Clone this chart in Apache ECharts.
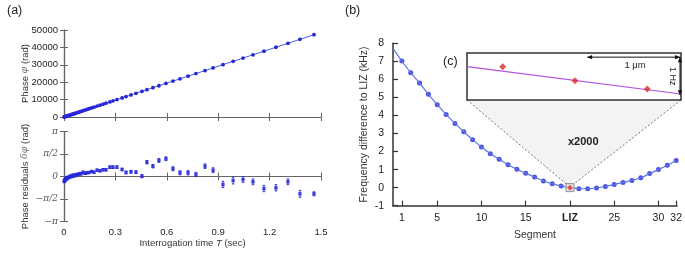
<!DOCTYPE html>
<html>
<head>
<meta charset="utf-8">
<script src="https://cdn.jsdelivr.net/npm/echarts@6/dist/echarts.min.js"></script>
<style>
  html, body { margin: 0; padding: 0; background: #fff; }
  #chart { width: 685px; height: 254px; }
</style>
</head>
<body>
<div id="chart"></div>
<script>
  // (a) phase vs interrogation time
  const timeT = [0.001, 0.003, 0.005, 0.008, 0.012, 0.015, 0.019, 0.023, 0.029, 0.035,
    0.041, 0.047, 0.053, 0.058, 0.064, 0.073, 0.082, 0.090, 0.099, 0.111,
    0.123, 0.134, 0.146, 0.161, 0.175, 0.193, 0.210, 0.228, 0.245, 0.268,
    0.286, 0.309, 0.339, 0.362, 0.391, 0.420, 0.455, 0.484, 0.519, 0.554,
    0.595, 0.636, 0.677, 0.724, 0.770, 0.823, 0.870, 0.928, 0.987, 1.045,
    1.103, 1.167, 1.237, 1.307, 1.377, 1.459]
  const phase = [30, 100, 160, 260, 390, 490, 620, 750, 940, 1130,
    1330, 1520, 1720, 1880, 2070, 2370, 2660, 2920, 3210, 3600,
    3990, 4340, 4730, 5220, 5670, 6260, 6810, 7390, 7940, 8690,
    9270, 10020, 10990, 11740, 12680, 13620, 14750, 15690, 16830, 17960,
    19290, 20620, 21950, 23470, 24960, 26680, 28210, 30090, 32000, 33880,
    35760, 37830, 40100, 42370, 44640, 47300]
  const residual = [-0.35, -0.25, -0.30, -0.22, -0.10, -0.18, -0.12, -0.05, -0.08, 0.02,
    -0.02, 0.08, 0.02, 0.10, 0.05, 0.15, 0.12, 0.20, 0.18, 0.30,
    0.22, 0.26, 0.28, 0.35, 0.30, 0.44, 0.40, 0.47, 0.47, 0.65,
    0.65, 0.65, 0.49, 0.28, 0.33, 0.30, 0.02, 1.00, 0.72, 1.12,
    1.24, 0.54, 0.26, 0.26, 0.14, 0.72, 0.44, -0.56, -0.28, -0.21,
    -0.37, -0.84, -0.79, -0.37, -1.21, -1.21]
  const residualErr = [0.06, 0.06, 0.06, 0.06, 0.06, 0.06, 0.06, 0.06, 0.06, 0.06,
    0.06, 0.06, 0.06, 0.06, 0.06, 0.06, 0.06, 0.06, 0.07, 0.07,
    0.07, 0.07, 0.07, 0.07, 0.08, 0.08, 0.08, 0.08, 0.08, 0.09,
    0.09, 0.09, 0.09, 0.10, 0.10, 0.10, 0.11, 0.12, 0.12, 0.13,
    0.13, 0.14, 0.14, 0.15, 0.15, 0.16, 0.17, 0.22, 0.24, 0.20,
    0.20, 0.22, 0.22, 0.20, 0.24, 0.14]
  const piLabels = ['\u2212\u03c0', '\u2212\u03c0/2', '0', '\u03c0/2', '\u03c0']

  // (b) frequency difference per segment
  const segments = [1, 2, 3, 4, 5, 6, 7, 8, 9, 10, 11, 12, 13, 14, 15, 16,
    17, 18, 19, 20, 21, 22, 23, 24, 25, 26, 27, 28, 29, 30, 31, 32]
  const freqDiff = [7.02, 6.37, 5.80, 5.17, 4.60, 4.06, 3.56, 3.10, 2.66, 2.25, 1.88, 1.57, 1.27, 1.02, 0.80, 0.59,
    0.37, 0.22, 0.09, 0.00, -0.06, -0.06, -0.02, 0.07, 0.18, 0.29, 0.40, 0.55, 0.78, 1.00, 1.24, 1.51]
  const fitStart = [0, 7.72]
  const segTicks = [1, 5, 10, 15, 20, 25, 30, 32]
  const lizSeg = 20

  // (c) inset, x2000 zoom around LIZ
  const insetX = [-0.77, 0, 0.77]
  const insetY = [0.37, 0.0, -0.22]
  const insetFitX = [-1.15, 1.13]
  const insetFitY = [0.368, -0.35]

  const FONT = 'Liberation Sans, Arial, sans-serif'
  const BLUE = '#2626d9'
  const AX_A = '#666'
  const AX_B = '#333'

  const chart = echarts.init(document.getElementById('chart'), null, { renderer: 'canvas' })

  const gA1 = { left: 64, top: 30, width: 257, height: 87 }
  const gA2 = { left: 64, top: 131.5, width: 257, height: 90 }
  const gB = { left: 393, top: 43.3, width: 287, height: 162.4 }
  const gC = { left: 467, top: 53, width: 214, height: 47 }

  function boxAxis(extra, color) {
    return Object.assign({
      type: 'value',
      axisLine: { show: true, lineStyle: { color: color, width: 1.2 } },
      axisTick: { show: true, inside: true, length: 4, lineStyle: { color: color } },
      axisLabel: { show: false },
      splitLine: { show: false }
    }, extra)
  }

  const tLabel = v => (Math.abs(v) < 1e-9 ? '0' : v.toFixed(1))
  const piLabel = v => piLabels[Math.round(v / (Math.PI / 2)) + 2]

  function renderErr(params, api) {
    const x = api.value(0)
    const y = api.value(1)
    const e = api.value(2)
    const hi = api.coord([x, y + e])
    const lo = api.coord([x, y - e])
    const cap = 1.3
    const st = { stroke: BLUE, lineWidth: 0.9 }
    return {
      type: 'group',
      children: [
        { type: 'line', shape: { x1: hi[0], y1: hi[1], x2: lo[0], y2: lo[1] }, style: st },
        { type: 'line', shape: { x1: hi[0] - cap, y1: hi[1], x2: hi[0] + cap, y2: hi[1] }, style: st },
        { type: 'line', shape: { x1: lo[0] - cap, y1: lo[1], x2: lo[0] + cap, y2: lo[1] }, style: st }
      ]
    }
  }

  const option = {
    animation: false,
    backgroundColor: '#fff',
    textStyle: { fontFamily: FONT },
    grid: [gA1, gA2, gB, Object.assign({ show: true, backgroundColor: '#fff', borderColor: '#333', borderWidth: 1.5 }, gC)],
    xAxis: [
      boxAxis({ gridIndex: 0, position: 'bottom', min: 0, max: 1.5, interval: 0.3 }, AX_A),
      boxAxis({ gridIndex: 0, position: 'top', min: 0, max: 1.5, interval: 0.3 }, AX_A),
      boxAxis({
        gridIndex: 1, position: 'bottom', min: 0, max: 1.5, interval: 0.3,
        axisLabel: { show: true, color: '#222', fontSize: 9.5, margin: 6, formatter: tLabel },
        name: 'Interrogation time {i|T} (sec)', nameLocation: 'middle', nameGap: 17,
        nameTextStyle: { color: '#333', fontSize: 9.5, rich: { i: { fontStyle: 'italic', fontSize: 9.5, color: '#333' } } }
      }, AX_A),
      boxAxis({ gridIndex: 1, position: 'top', min: 0, max: 1.5, interval: 0.3 }, AX_A),
      {
        type: 'value', gridIndex: 2, position: 'bottom', min: 0, max: 32.1,
        axisLine: { show: true, onZero: false, lineStyle: { color: AX_B, width: 1.5 } },
        axisTick: { show: true, inside: true, length: 5, customValues: segTicks, lineStyle: { color: AX_B, width: 1.2 } },
        axisLabel: {
          show: true, customValues: segTicks, color: '#222', fontSize: 10.5, margin: 7,
          formatter: v => (v === lizSeg ? '{b|LIZ}' : String(v)),
          rich: { b: { fontWeight: 'bold', fontSize: 10.5, color: '#222' } }
        },
        splitLine: { show: false },
        name: 'Segment', nameLocation: 'middle', nameGap: 24,
        nameTextStyle: { color: '#333', fontSize: 10.5 }
      },
      { type: 'value', gridIndex: 3, min: -1.15, max: 1.13, show: false }
    ],
    yAxis: [
      boxAxis({
        gridIndex: 0, position: 'left', min: 0, max: 50000, interval: 10000,
        axisLabel: { show: true, color: '#222', fontSize: 9.5, margin: 6, formatter: v => String(v) },
        name: 'Phase {i|\u03c6} (rad)', nameLocation: 'middle', nameGap: 34, nameRotate: 90, nameMoveOverlap: false,
        nameTextStyle: { color: '#333', fontSize: 9.5, rich: { i: { fontStyle: 'italic', fontSize: 9.5, color: '#777', fontFamily: 'DejaVu Serif' } } }
      }, AX_A),
      boxAxis({ gridIndex: 0, position: 'right', min: 0, max: 50000, interval: 10000 }, AX_A),
      boxAxis({
        gridIndex: 1, position: 'left', min: -Math.PI, max: Math.PI, interval: Math.PI / 2,
        axisLabel: { show: true, color: '#555', fontSize: 9, margin: 6, fontStyle: 'italic', fontFamily: 'DejaVu Serif', formatter: piLabel },
        name: 'Phase residuals {i|\u03b4\u03c6} (rad)', nameLocation: 'middle', nameGap: 34, nameRotate: 90, nameMoveOverlap: false,
        nameTextStyle: { color: '#333', fontSize: 9.5, rich: { i: { fontStyle: 'italic', fontSize: 9.5, color: '#777', fontFamily: 'DejaVu Serif' } } }
      }, AX_A),
      boxAxis({ gridIndex: 1, position: 'right', min: -Math.PI, max: Math.PI, interval: Math.PI / 2 }, AX_A),
      {
        type: 'value', gridIndex: 2, position: 'left', min: -1, max: 8, interval: 1,
        axisLine: { show: true, onZero: false, lineStyle: { color: AX_B, width: 1.5 } },
        axisTick: { show: true, inside: true, length: 5, lineStyle: { color: AX_B, width: 1.2 } },
        axisLabel: { show: true, color: '#222', fontSize: 10.5, margin: 9 },
        splitLine: { show: false },
        name: 'Frequency difference to LIZ (kHz)', nameLocation: 'middle', nameGap: 23, nameRotate: 90,
        nameTextStyle: { color: '#333', fontSize: 10.5 }
      },
      { type: 'value', gridIndex: 3, min: -0.508, max: 0.729, show: false }
    ],
    series: [
      {
        type: 'line', xAxisIndex: 0, yAxisIndex: 0,
        data: timeT.map((t, i) => [t, phase[i]]),
        symbol: 'circle', symbolSize: 3.8, showSymbol: true,
        lineStyle: { color: '#4a5ee0', width: 1 },
        itemStyle: { color: BLUE }
      },
      {
        type: 'custom', xAxisIndex: 2, yAxisIndex: 2,
        data: timeT.map((t, i) => [t, residual[i], residualErr[i]]),
        renderItem: renderErr, z: 3
      },
      {
        type: 'scatter', xAxisIndex: 2, yAxisIndex: 2,
        data: timeT.map((t, i) => [t, residual[i]]),
        symbol: 'rect', symbolSize: 3.4,
        itemStyle: { color: BLUE }, z: 4
      },
      {
        type: 'line', xAxisIndex: 4, yAxisIndex: 4,
        data: [fitStart].concat(segments.map((s, i) => [s, freqDiff[i]])),
        smooth: 0.3, showSymbol: false, symbol: 'none',
        lineStyle: { color: '#5a78e6', width: 1.2 }
      },
      {
        type: 'scatter', xAxisIndex: 4, yAxisIndex: 4,
        data: segments.map((s, i) => [s, freqDiff[i]]).filter(d => d[0] !== lizSeg),
        symbol: 'circle', symbolSize: 5,
        itemStyle: { color: BLUE }
      },
      {
        type: 'scatter', xAxisIndex: 4, yAxisIndex: 4,
        data: [[lizSeg, freqDiff[lizSeg - 1]]],
        symbol: 'rect', symbolSize: 8,
        itemStyle: { color: '#e4e4e4', borderColor: '#777', borderWidth: 1 }, z: 5
      },
      {
        type: 'scatter', xAxisIndex: 4, yAxisIndex: 4,
        data: [[lizSeg, freqDiff[lizSeg - 1]]],
        symbol: 'diamond', symbolSize: 6,
        itemStyle: { color: '#e02a2a' }, z: 6
      },
      {
        type: 'line', xAxisIndex: 5, yAxisIndex: 5,
        data: insetFitX.map((x, i) => [x, insetFitY[i]]),
        showSymbol: false, symbol: 'none',
        lineStyle: { color: '#b050e0', width: 1.2 }, z: 5
      },
      {
        type: 'scatter', xAxisIndex: 5, yAxisIndex: 5,
        data: insetX.map((x, i) => [x, insetY[i]]),
        symbol: 'diamond', symbolSize: 7,
        itemStyle: { color: '#dd2a2a' }, z: 6
      }
    ]
  }

  chart.setOption(option)

  // zoom wedge from LIZ point up to the inset, plus labels and scale arrows
  const liz = chart.convertToPixel({ gridIndex: 2 }, [lizSeg, freqDiff[lizSeg - 1]])
  const cL = gC.left, cR = gC.left + gC.width, cB = gC.top + gC.height
  const ink = '#111'
  const arrowH = (x1, x2, y) => [
    { type: 'line', shape: { x1: x1, y1: y, x2: x2, y2: y }, style: { stroke: ink, lineWidth: 1 }, z: 20 },
    { type: 'polygon', shape: { points: [[x1, y], [x1 + 5, y - 2.2], [x1 + 5, y + 2.2]] }, style: { fill: ink }, z: 20 },
    { type: 'polygon', shape: { points: [[x2, y], [x2 - 5, y - 2.2], [x2 - 5, y + 2.2]] }, style: { fill: ink }, z: 20 }
  ]
  const arrowV = (x, y1, y2) => [
    { type: 'line', shape: { x1: x, y1: y1, x2: x, y2: y2 }, style: { stroke: ink, lineWidth: 1 }, z: 20 },
    { type: 'polygon', shape: { points: [[x, y1], [x - 2.2, y1 + 5], [x + 2.2, y1 + 5]] }, style: { fill: ink }, z: 20 },
    { type: 'polygon', shape: { points: [[x, y2], [x - 2.2, y2 - 5], [x + 2.2, y2 - 5]] }, style: { fill: ink }, z: 20 }
  ]
  const um = chart.convertToPixel({ gridIndex: 3 }, [0.13, 0])[0]
  const umEnd = chart.convertToPixel({ gridIndex: 3 }, [1.13, 0])[0]
  const hzTop = chart.convertToPixel({ gridIndex: 3 }, [0, 0.62])[1]
  const hzBot = chart.convertToPixel({ gridIndex: 3 }, [0, -0.38])[1]

  chart.setOption({
    graphic: [
      {
        type: 'polygon', z: -10,
        shape: { points: [[cL, cB], [liz[0] - 3, liz[1] - 3], [liz[0] + 3, liz[1] - 3], [cR, cB]] },
        style: { fill: '#f3f3f3' }
      },
      {
        type: 'line', z: -9,
        shape: { x1: cL, y1: cB, x2: liz[0] - 3, y2: liz[1] - 3 },
        style: { stroke: '#555', lineWidth: 0.8, lineDash: [2, 2] }
      },
      {
        type: 'line', z: -9,
        shape: { x1: cR, y1: cB, x2: liz[0] + 3, y2: liz[1] - 3 },
        style: { stroke: '#555', lineWidth: 0.8, lineDash: [2, 2] }
      },
      { type: 'text', left: 7, top: 4, style: { text: '(a)', font: '12.5px ' + FONT, fill: '#222' } },
      { type: 'text', left: 345, top: 4, style: { text: '(b)', font: '12.5px ' + FONT, fill: '#222' } },
      { type: 'text', left: 443, top: 55, style: { text: '(c)', font: '12.5px ' + FONT, fill: '#222' } },
      { type: 'text', left: 568, top: 136, style: { text: 'x2000', font: 'bold 11px ' + FONT, fill: '#222' } },
      { type: 'text', x: (um + umEnd) / 2 + 1, y: 60, style: { text: '1 \u03bcm', font: '9.5px ' + FONT, fill: '#222', align: 'center' }, z: 20 },
      {
        type: 'text', x: cR - 9, y: (hzTop + hzBot) / 2, rotation: -Math.PI / 2,
        style: { text: '1 Hz', font: '9px ' + FONT, fill: '#222', align: 'center', verticalAlign: 'middle' }, z: 20
      }
    ].concat(arrowH(um, umEnd - 1, hzTop)).concat(arrowV(umEnd - 1, hzTop, hzBot))
  })
</script>
</body>
</html>
